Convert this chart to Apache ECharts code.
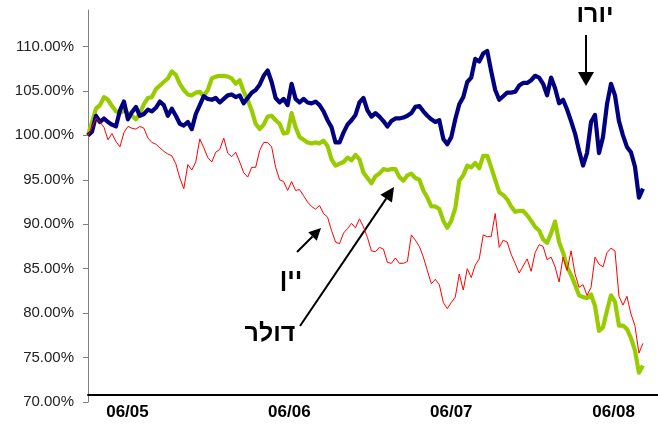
<!DOCTYPE html>
<html>
<head>
<meta charset="utf-8">
<script src="https://cdn.jsdelivr.net/npm/echarts@6/dist/echarts.min.js"></script>
<style>
  html, body { margin: 0; padding: 0; background: #ffffff; }
  #chart { width: 658px; height: 432px; }
</style>
</head>
<body>
<div id="chart"></div>
<script>
// Sampling of the three currency indices (start = 100%)
const startDate = '2005-03-04';
const stepDays = 9;
const axisEndDate = '2008-09-09';
const xTickDates = ['2005-06-01', '2006-06-01', '2007-06-01', '2008-06-01'];
const yTickValues = [70, 75, 80, 85, 90, 95, 100, 105, 110];

const euro = [
  100.0,100.4,102.2,101.5,101.9,101.5,101.2,101.0,102.8,103.8,
  101.8,102.6,103.2,102.2,102.4,102.9,102.7,103.1,103.8,103.4,
  102.2,103.0,102.2,101.3,101.1,101.5,100.7,102.4,103.4,104.4,
  104.1,104.0,104.2,103.7,104.1,104.5,104.6,104.3,104.5,103.6,
  104.2,104.8,105.1,105.7,106.7,107.3,106.0,104.2,103.7,104.1,
  103.4,105.8,104.1,103.7,104.1,103.7,103.6,103.8,103.4,102.7,
  101.7,100.9,99.2,99.2,100.3,101.2,101.7,102.3,103.7,104.2,
  102.8,102.1,102.5,102.1,101.6,101.0,101.6,101.9,101.9,102.0,
  102.2,102.5,103.2,103.3,102.7,102.2,101.8,101.5,101.7,99.6,
  99.0,99.8,101.8,103.5,104.3,106.0,106.5,108.6,108.3,109.2,
  109.5,107.2,105.1,104.0,104.4,104.8,104.8,104.9,105.6,105.9,
  105.9,106.2,106.7,106.5,105.8,104.5,106.5,105.3,103.6,104.0,
  102.9,101.6,100.2,98.3,96.6,98.0,101.5,102.3,98.0,99.8,
  103.5,105.8,104.5,101.6,100.0,98.7,98.1,96.5,93.0,94.0
];

const dollar = [
  100.0,101.5,103.0,103.4,104.3,104.0,103.3,102.7,102.5,102.8,
  102.5,102.2,101.8,102.5,103.5,104.2,104.3,105.2,105.6,106.0,
  106.4,107.2,106.8,105.8,105.1,104.6,104.5,104.8,104.9,104.4,
  105.1,106.4,106.6,106.7,106.7,106.6,106.4,105.8,106.2,104.9,
  104.0,102.8,101.3,100.7,101.2,102.1,102.2,101.7,101.3,100.2,
  100.3,102.5,100.9,99.8,99.5,99.2,99.1,99.2,99.1,99.4,
  98.8,97.3,96.6,96.8,97.0,97.5,97.2,97.8,97.3,95.8,
  95.2,94.6,95.4,95.7,96.2,96.1,96.2,96.2,95.3,94.9,
  95.5,95.7,95.2,95.0,93.8,93.0,92.0,92.0,91.7,90.4,
  89.6,90.4,91.8,94.9,95.5,96.6,96.4,96.9,96.3,97.7,
  97.7,96.4,95.0,93.6,93.3,92.8,92.0,91.4,91.5,91.5,
  91.0,90.4,89.7,89.3,88.3,87.9,89.0,90.3,88.0,86.8,
  85.2,84.3,83.2,82.0,81.8,81.7,82.1,80.8,78.0,78.4,
  80.3,82.0,81.3,78.6,78.6,78.2,77.2,75.8,73.3,74.1
];

const yen = [
  100.0,100.9,101.9,101.5,100.9,99.5,100.2,99.3,98.7,100.3,
  101.0,100.8,100.7,101.0,100.8,99.7,99.2,99.0,98.6,98.2,
  97.9,97.7,96.8,95.2,94.0,96.7,96.1,97.0,99.6,98.6,
  97.5,97.0,98.1,98.4,99.7,98.0,97.6,98.1,97.0,95.8,
  95.3,96.4,96.4,98.3,99.2,99.2,98.7,96.4,95.0,94.8,
  93.8,94.8,93.8,93.9,93.2,92.5,92.0,91.7,92.1,91.2,
  90.8,89.3,88.0,87.8,89.0,89.5,90.1,89.6,90.6,89.7,
  88.5,87.0,86.9,87.4,87.2,85.7,85.6,86.2,85.6,85.6,
  85.8,88.8,88.2,87.5,86.3,84.8,83.3,83.8,83.2,81.2,
  80.5,81.2,81.8,84.4,82.6,85.0,84.0,85.4,86.1,88.8,
  88.6,88.6,91.2,87.4,88.2,88.0,86.6,85.6,84.5,85.3,
  86.1,84.7,86.8,87.7,87.5,86.0,86.3,85.2,83.5,86.3,
  84.8,87.0,84.4,82.9,83.2,82.0,82.9,86.3,85.5,85.2,
  86.8,87.3,87.0,81.9,80.9,81.9,79.9,78.6,75.5,76.6
];

const DAY = 86400000;
const t0 = Date.parse(startDate);
const toPairs = arr => arr.map((v, i) => [t0 + i * stepDays * DAY, v]);

// Annotation arrow: a shaft plus a filled head at (x2, y2)
function arrow(x1, y1, x2, y2, headLen, headHalf) {
  const dx = x2 - x1, dy = y2 - y1;
  const L = Math.sqrt(dx * dx + dy * dy);
  const ux = dx / L, uy = dy / L;
  const bx = x2 - ux * headLen, by = y2 - uy * headLen;
  const px = -uy, py = ux;
  return [
    { type: 'line', silent: true,
      shape: { x1: x1, y1: y1, x2: bx, y2: by },
      style: { stroke: '#000', lineWidth: 2 } },
    { type: 'polygon', silent: true,
      shape: { points: [[x2, y2], [bx + px * headHalf, by + py * headHalf], [bx - px * headHalf, by - py * headHalf]] },
      style: { fill: '#000' } }
  ];
}

const labelFont = { fontFamily: 'Arial, "Liberation Sans", sans-serif', fontWeight: 'bold', fontSize: 25, fill: '#000', align: 'center', verticalAlign: 'middle' };

const chart = echarts.init(document.getElementById('chart'), null, { renderer: 'canvas' });
chart.setOption({
  animation: false,
  backgroundColor: '#ffffff',
  grid: { left: 88, right: 0, top: 10, bottom: 30, containLabel: false },
  xAxis: {
    type: 'value',
    min: t0,
    max: Date.parse(axisEndDate),
    offset: -7,
    splitLine: { show: false },
    axisLine: { lineStyle: { color: '#000', width: 2 } },
    axisTick: { show: false },
    axisLabel: {
      customValues: xTickDates.map(d => Date.parse(d)),
      margin: 9,
      color: '#000',
      fontFamily: 'Arial, "Liberation Sans", sans-serif',
      fontWeight: 'bold',
      fontSize: 17,
      formatter: function (val) {
        const d = new Date(val);
        const mm = String(d.getUTCMonth() + 1).padStart(2, '0');
        const yy = String(d.getUTCFullYear() % 100).padStart(2, '0');
        return mm + '/' + yy;
      }
    }
  },
  yAxis: {
    type: 'value',
    min: 70,
    max: 114.1,
    splitLine: { show: false },
    axisLine: { show: true, lineStyle: { color: '#808080', width: 1 } },
    axisTick: { show: true, customValues: yTickValues, length: 5, lineStyle: { color: '#808080' } },
    axisLabel: {
      customValues: yTickValues,
      margin: 14,
      color: '#222',
      fontFamily: 'Arial, "Liberation Sans", sans-serif',
      fontSize: 15,
      formatter: v => v.toFixed(2) + '%'
    }
  },
  series: [
    { name: 'דולר', type: 'line', data: toPairs(dollar), showSymbol: false, symbol: 'none',
      lineStyle: { color: '#99CC00', width: 4.2, join: 'round' }, z: 2 },
    { name: 'יורו', type: 'line', data: toPairs(euro), showSymbol: false, symbol: 'none',
      lineStyle: { color: '#000080', width: 4.2, join: 'round' }, z: 3 },
    { name: 'יין', type: 'line', data: toPairs(yen), showSymbol: false, symbol: 'none',
      lineStyle: { color: '#FF0000', width: 1 }, z: 4 }
  ],
  graphic: [
    { type: 'text', silent: true, x: 595, y: 15, style: Object.assign({ text: 'יורו' }, labelFont) },
    { type: 'text', silent: true, x: 291, y: 279, style: Object.assign({ text: 'יין' }, labelFont) },
    { type: 'text', silent: true, x: 270, y: 334, style: Object.assign({ text: 'דולר' }, labelFont) }
  ].concat(
    arrow(586, 35, 586, 86, 14, 8),
    arrow(297, 252, 321, 228, 12, 6),
    arrow(300, 326, 394, 187, 14, 7)
  )
});
</script>
</body>
</html>
